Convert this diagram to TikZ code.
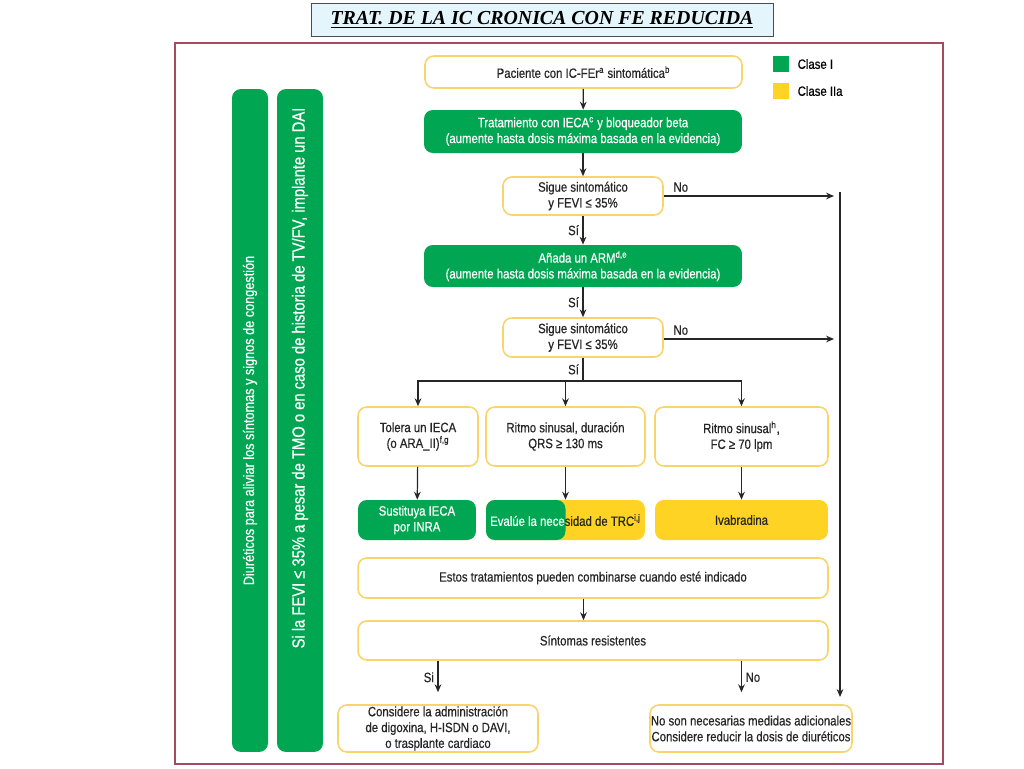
\documentclass[tikz,border=0pt]{standalone}
\usepackage{fontspec}
\newfontfamily\hopfont{Liberation Sans}[FakeStretch=0.84,FakeBold=0.5]
\newfontfamily\tieufont{Liberation Serif}
\definecolor{icverde}{HTML}{00A651}
\definecolor{icamarillo}{HTML}{FFD324}
\definecolor{icborde}{HTML}{F8D46A}
\definecolor{icmarco}{HTML}{A34B62}
\definecolor{ictitulo}{HTML}{E5F5FC}
\def\mauxanh{icverde}
\def\mauvang{icamarillo}
\usetikzlibrary{arrows.meta,positioning,calc}
\begin{document}
\begin{tikzpicture}[x=0.02cm,y=-0.02cm]
		\tikzstyle{chu} = [font=\hopfont\fontsize{7.7}{9}\selectfont]
		\tikzstyle{khung} = [chu,draw=icborde,line width=0.9pt,fill=white,rounded corners=5pt,align=center,inner sep=0pt,text=black!85]
		\tikzstyle{xanh} = [chu,fill=\mauxanh,rounded corners=5pt,align=center,inner sep=0pt,text=white]
		\tikzstyle{vang} = [chu,fill=\mauvang,rounded corners=5pt,align=center,inner sep=0pt,text=black!85]
		\tikzstyle{muiten} = [-{Stealth[length=4.5pt,width=3.8pt]},line width=0.7pt,black!85]
		\tikzstyle{nhan} = [chu,text=black!85,inner sep=2pt]
		\useasboundingbox (0,0) rectangle (1024,768);
		\node[draw=black!70,fill=ictitulo,minimum width=9.24cm,minimum height=0.66cm,font=\tieufont\bfseries\itshape\fontsize{11.3}{13}\selectfont] (tieude) at (542,19.5) {\underline{TRAT. DE LA IC CRONICA CON FE REDUCIDA}};
		\draw[icmarco,line width=1.2pt] (175,43) rectangle (943,764);
		\node[xanh,rotate=90,minimum width=13.26cm,minimum height=0.72cm,font=\hopfont\fontsize{8.6}{10}\selectfont] (diur) at (250,420.5) {Diuréticos para aliviar los síntomas y signos de congestión};
		\node[xanh,rotate=90,minimum width=13.26cm,minimum height=0.92cm] (dai) at (300,420.5) {};
		\node[rotate=90,text=white,inner sep=0pt,font=\hopfont\fontsize{10}{11}\selectfont] (daitxt) at (300,378) {Si la FEVI ≤ 35\% a pesar de TMO o en caso de historia de TV/FV, implante un DAI};
		\node[fill=\mauxanh,minimum size=0.32cm,inner sep=0pt] (lg1) at (781,64) {};
		\node[chu,right=0.16cm of lg1,inner sep=0pt] (lg1t) {Clase I};
		\node[fill=\mauvang,minimum size=0.32cm,inner sep=0pt] (lg2) at (781,91) {};
		\node[chu,right=0.16cm of lg2,inner sep=0pt] (lg2t) {Clase IIa};
		\node[khung,minimum width=6.34cm,minimum height=0.64cm] (pac) at (583.5,72) {Paciente con IC-FEr\textsuperscript{a} sintomática\textsuperscript{b}};
		\node[xanh,minimum width=6.36cm,minimum height=0.86cm] (trat) at (583,131.5) {Tratamiento con IECA\textsuperscript{c} y bloqueador beta\\(aumente hasta dosis máxima basada en la evidencia)};
		\node[khung,minimum width=3.2cm,minimum height=0.76cm] (sig1) at (583,196) {Sigue sintomático\\y FEVI ≤ 35\%};
		\node[xanh,minimum width=6.36cm,minimum height=0.84cm] (arm) at (583,266) {Añada un ARM\textsuperscript{d,e}\\(aumente hasta dosis máxima basada en la evidencia)};
		\node[khung,minimum width=3.2cm,minimum height=0.78cm] (sig2) at (583,337.5) {Sigue sintomático\\y FEVI ≤ 35\%};
		\node[khung,minimum width=2.4cm,minimum height=1.18cm] (tol) at (418,436.5) {Tolera un IECA\\(o ARA\_II)\textsuperscript{f,g}};
		\node[khung,minimum width=3.18cm,minimum height=1.18cm] (qrs) at (565.5,436.5) {Ritmo sinusal, duración\\QRS ≥ 130 ms};
		\node[khung,minimum width=3.46cm,minimum height=1.18cm] (fc) at (741.5,436.5) {Ritmo sinusal\textsuperscript{h},\\FC ≥ 70 lpm};
		\node[xanh,minimum width=2.36cm,minimum height=0.8cm] (sust) at (417,520) {Sustituya IECA\\por INRA};
		\node[vang,minimum width=3.18cm,minimum height=0.8cm,path picture={\fill[\mauxanh] (path picture bounding box.south west) rectangle (path picture bounding box.north);}] (eval) at (565.5,520) {\textcolor{white}{Evalúe la nece}sidad de TRC\textsuperscript{i,j}};
		\node[vang,minimum width=3.46cm,minimum height=0.8cm] (iva) at (741.5,520) {Ivabradina};
		\node[khung,minimum width=9.4cm,minimum height=0.8cm] (estos) at (593,578) {Estos tratamientos pueden combinarse cuando esté indicado};
		\node[khung,minimum width=9.4cm,minimum height=0.78cm] (sint) at (593,640.5) {Síntomas resistentes};
		\node[khung,minimum width=4cm,minimum height=0.94cm] (cons) at (438,728.5) {Considere la administración\\de digoxina, H-ISDN o DAVI,\\o trasplante cardiaco};
		\node[khung,minimum width=4.04cm,minimum height=0.94cm] (noson) at (751,728.5) {No son necesarias medidas adicionales\\Considere reducir la dosis de diuréticos};
		\coordinate (no1) at (834,196);
		\coordinate (no2) at (834,339);
		\coordinate (ray1) at (840,192);
		\coordinate (ray2) at (840,697);
		\coordinate (nhanh) at (583,381);
		\draw[muiten] (pac) -- (trat);
		\draw[muiten] (trat) -- (sig1);
		\draw[muiten] (sig1) -- node[nhan,left]{Sí} (arm);
		\draw[muiten] (sig1.east) -- node[nhan,above,pos=0.1]{No} (no1);
		\draw[muiten] (arm) -- node[nhan,left]{Sí} (sig2);
		\draw[muiten] (sig2.east |- no2) -- node[nhan,above,pos=0.1]{No} (no2);
		\draw[line width=0.7pt,black!85] (sig2) -- node[nhan,left]{Sí} (nhanh);
		\draw[muiten] (nhanh) -| (tol.north);
		\draw[muiten] (nhanh) -| (qrs.north);
		\draw[muiten] (nhanh) -| (fc.north);
		\draw[muiten] (tol) -- (sust);
		\draw[muiten] (qrs) -- (eval);
		\draw[muiten] (fc) -- (iva);
		\draw[muiten] (ray1) -- (ray2);
		\draw[muiten] (estos.south -| pac.south) -- (sint.north -| pac.south);
		\draw[muiten,shorten >=0.24cm] (sint.south -| cons.north) -- node[nhan,left,pos=0.38]{Si} (cons.north);
		\draw[muiten,shorten >=0.24cm] (sint.south -| fc.south) -- node[nhan,right,pos=0.38]{No} (fc.south |- noson.north);
	\end{tikzpicture}
\end{document}
